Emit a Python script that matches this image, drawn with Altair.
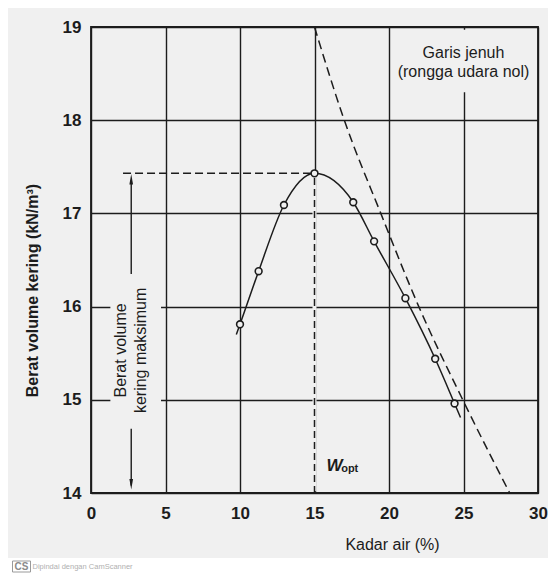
import altair as alt
import pandas as pd

# ---- data ----
water_content = [10.0, 11.25, 12.95, 15.0, 17.6, 19.0, 21.1, 23.1, 24.4]          # %
dry_unit_weight = [15.81, 16.38, 17.09, 17.43, 17.12, 16.70, 16.09, 15.44, 14.96]  # kN/m3

# ends of the hand-drawn compaction curve
curve_start_w, curve_start_g = 9.75, 15.70
curve_end_w, curve_end_g = 24.8, 14.81

# zero-air-void line (Garis jenuh)
zav_water = [15.0, 17.0, 19.45, 22.0, 24.95, 28.1]
zav_unit_weight = [19.0, 18.0, 17.0, 16.0, 15.0, 14.0]

x_ticks = [0, 5, 10, 15, 20, 25, 30]
y_ticks = [14, 15, 16, 17, 18, 19]

x_title = "Kadar air (%)"
y_title = "Berat volume kering (kN/m³)"
zav_label = "Garis jenuh\n(rongga udara nol)"
max_label = "Berat volume\nkering maksimum"
wopt_main = "W"
wopt_sub = "opt"
footer_logo = "CS"
footer_text = "Dipindai dengan CamScanner"

# ---- styling ----
BG = "#f0f0f0"
INK = "#1c1c1c"
FONT = "Liberation Sans"
PAD_L, PAD_T, PAD_R, PAD_B = 83, 19, 10, 84
PLOT_W, PLOT_H = 447, 466

w_opt = water_content[dry_unit_weight.index(max(dry_unit_weight))]
g_max = max(dry_unit_weight)

x_scale = alt.Scale(domain=[0, 30], nice=False, zero=False)
y_scale = alt.Scale(domain=[14, 19], nice=False, zero=False)

x_axis = alt.Axis(values=x_ticks, grid=True, gridColor=INK, gridWidth=1.4, gridOpacity=1,
                  domain=False, ticks=False, labelFont=FONT, labelFontSize=17,
                  labelFontWeight="bold", labelColor=INK, labelPadding=12,
                  labelFlush=False, labelOverlap=False, format="d",
                  title=x_title, titleFont=FONT, titleFontSize=16, titleFontWeight="normal",
                  titleColor=INK, titleX=301, titleY=51.5, titleAlign="center",
                  titleBaseline="middle")
y_axis = alt.Axis(values=y_ticks, grid=True, gridColor=INK, gridWidth=1.4, gridOpacity=1,
                  domain=False, ticks=False, labelFont=FONT, labelFontSize=17,
                  labelFontWeight="bold", labelColor=INK, labelPadding=10,
                  labelFlush=False, labelOverlap=False, format="d",
                  title=y_title, titleFont=FONT, titleFontSize=16, titleFontWeight="bold",
                  titleColor=INK, titleX=-58.1, titleY=263, titleAngle=270,
                  titleAlign="center", titleBaseline="middle")

X = alt.X("w:Q", scale=x_scale, axis=x_axis)
Y = alt.Y("g:Q", scale=y_scale, axis=y_axis)

one = pd.DataFrame({"k": [0]})

# background covers that open gaps in the grid behind the labels
covers = pd.DataFrame({"w": [20.5, 1.3], "w2": [29.8, 4.7],
                       "g": [18.30, 14.80], "g2": [18.97, 16.25]})
cover_layer = alt.Chart(covers).mark_rect(fill=BG, strokeWidth=0).encode(
    x=X, x2="w2:Q", y=Y, y2="g2:Q")

wopt_cover = alt.Chart(pd.DataFrame({"w": [w_opt], "g": [14.02], "g2": [g_max]})).mark_rule(
    color=BG, strokeWidth=4).encode(x=X, y=Y, y2="g2:Q")

curve_df = pd.DataFrame({"w": [curve_start_w] + water_content + [curve_end_w],
                         "g": [curve_start_g] + dry_unit_weight + [curve_end_g]})
curve = alt.Chart(curve_df).mark_line(color=INK, strokeWidth=1.5, interpolate="monotone").encode(
    x=X, y=Y, order="w:Q")

zav = alt.Chart(pd.DataFrame({"w": zav_water, "g": zav_unit_weight})).mark_line(
    color=INK, strokeWidth=1.5, strokeDash=[9, 5], interpolate="monotone").encode(
    x=X, y=Y, order=alt.Order("g:Q", sort="descending"))

h_dash = alt.Chart(pd.DataFrame({"w": [2.15], "w2": [w_opt], "g": [g_max]})).mark_rule(
    color=INK, strokeWidth=1.5, strokeDash=[8, 4]).encode(x=X, x2="w2:Q", y=Y)

v_dash = alt.Chart(pd.DataFrame({"w": [w_opt], "g": [14.0], "g2": [g_max]})).mark_rule(
    color=INK, strokeWidth=1.5, strokeDash=[7, 4]).encode(x=X, y=Y, y2="g2:Q")

arrow_x = 2.7
shafts = alt.Chart(pd.DataFrame({"w": [arrow_x, arrow_x], "g": [16.35, 14.08],
                                 "g2": [17.36, 14.69]})).mark_rule(
    color=INK, strokeWidth=1.4).encode(x=X, y=Y, y2="g2:Q")
head_up = alt.Chart(pd.DataFrame({"w": [arrow_x], "g": [17.42]})).mark_point(
    shape="M0,-1L0.35,1L-0.35,1Z", size=110, filled=True, color=INK, opacity=1,
    yOffset=5).encode(x=X, y=Y)
head_down = alt.Chart(pd.DataFrame({"w": [arrow_x], "g": [14.04]})).mark_point(
    shape="M0,1L0.35,-1L-0.35,-1Z", size=110, filled=True, color=INK, opacity=1,
    yOffset=-5).encode(x=X, y=Y)

points = alt.Chart(pd.DataFrame({"w": water_content, "g": dry_unit_weight})).mark_point(
    shape="circle", filled=True, fill=BG, stroke=INK, strokeWidth=1.6, size=46,
    opacity=1).encode(x=X, y=Y)

zav_text = alt.Chart(pd.DataFrame({"w": [25.0], "g": [18.72], "t": [zav_label]})).mark_text(
    font=FONT, fontSize=16, color=INK, align="center", baseline="middle",
    lineBreak="\n", lineHeight=19).encode(x=X, y=Y, text="t:N")

max_text = alt.Chart(pd.DataFrame({"w": [arrow_x - 0.66], "g": [15.53], "t": [max_label]})).mark_text(
    font=FONT, fontSize=16, color=INK, align="center", baseline="middle", angle=270,
    lineBreak="\n", lineHeight=19.3).encode(x=X, y=Y, text="t:N")

w_text = alt.Chart(pd.DataFrame({"w": [15.81], "g": [14.24], "t": [wopt_main]})).mark_text(
    font=FONT, fontSize=17, fontStyle="italic", fontWeight="bold", color=INK,
    align="left", baseline="alphabetic").encode(x=X, y=Y, text="t:N")
opt_text = alt.Chart(pd.DataFrame({"w": [16.79], "g": [14.225], "t": [wopt_sub]})).mark_text(
    font=FONT, fontSize=11, fontWeight="bold", color=INK,
    align="left", baseline="alphabetic").encode(x=X, y=Y, text="t:N")

# scanner footer strip
strip = alt.Chart(one).mark_rect(fill="white", strokeWidth=0).encode(
    x=alt.value(-PAD_L), x2=alt.value(PLOT_W + PAD_R), y=alt.value(531), y2=alt.value(551))
logo_box = alt.Chart(one).mark_rect(fill="white", stroke="#9a9a9a", strokeWidth=1).encode(
    x=alt.value(-78.5), x2=alt.value(-60.5), y=alt.value(534), y2=alt.value(545))
logo_text = alt.Chart(one).mark_text(font=FONT, fontSize=10, fontWeight="bold",
                                     color="#8a8a8a", align="center", baseline="middle").encode(
    x=alt.value(-69.5), y=alt.value(539.5), text=alt.value(footer_logo))
foot_text = alt.Chart(one).mark_text(font=FONT, fontSize=7.5, color="#b0b0b0",
                                     align="left", baseline="middle").encode(
    x=alt.value(-58.5), y=alt.value(539.5), text=alt.value(footer_text))

chart = alt.layer(
    cover_layer, wopt_cover, curve, zav, h_dash, v_dash, shafts, head_up, head_down,
    points, zav_text, max_text, w_text, opt_text, strip, logo_box, logo_text, foot_text
).properties(
    width=PLOT_W, height=PLOT_H,
    padding={"left": PAD_L, "top": PAD_T, "right": PAD_R, "bottom": PAD_B},
    autosize=alt.AutoSizeParams(type="none"),
    background=BG,
).configure_view(stroke=INK, strokeWidth=1.8)

chart.save("out.html", embed_options={"renderer": "svg", "actions": False})
